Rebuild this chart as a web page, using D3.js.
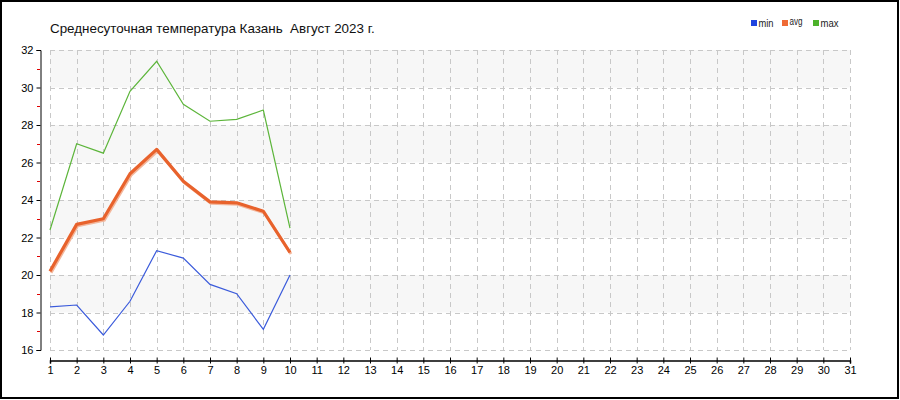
<!DOCTYPE html>
<html>
<head>
<meta charset="utf-8">
<script src="https://cdn.jsdelivr.net/npm/d3@7/dist/d3.min.js"></script>
<style>
  body { margin: 0; background: #fff; }
  svg { display: block; font-family: "Liberation Sans", Arial, sans-serif; }
</style>
</head>
<body>
<svg id="chart"></svg>
<script>
const days = d3.range(1, 32);
const seriesNames = ["min", "avg", "max"];
const minValues = [18.3, 18.4, 16.8, 18.6, 21.3, 20.9, 19.5, 19.0, 17.1, 20.0];
const avgValues = [20.2, 22.7, 23.0, 25.4, 26.7, 25.0, 23.9, 23.85, 23.4, 21.2];
const maxValues = [22.4, 27.0, 26.5, 29.8, 31.4, 29.1, 28.2, 28.3, 28.8, 22.5];
const yMajorTicks = [16, 18, 20, 22, 24, 26, 28, 30, 32];
const yMinorTicks = [17, 19, 21, 23, 25, 27, 29, 31];
const title = "Среднесуточная температура Казань  Август 2023 г.";

const totalWidth = 900;
const totalHeight = 400;

const colors = { min: "#3b5bdb", avg: "#e8622c", max: "#5cb53a" };
const legendColors = { min: "#1f44e0", avg: "#ef6a35", max: "#4cb22a" };

const svg = d3.select("#chart").attr("width", totalWidth).attr("height", totalHeight);

// frame
svg.append("rect")
  .attr("x", 1).attr("y", 1)
  .attr("width", totalWidth - 3).attr("height", totalHeight - 3)
  .attr("fill", "#fff").attr("stroke", "#000").attr("stroke-width", 2);

// scales
const xScale = d3.scaleLinear().domain([1, 31]).range([50, 850]);
const yScale = d3.scaleLinear().domain([16, 32]).range([350, 50]);

// alternating bands
svg.append("g").selectAll("rect")
  .data([18, 22, 26, 30])
  .enter().append("rect")
  .attr("x", xScale(1))
  .attr("width", xScale(31) - xScale(1))
  .attr("y", (d) => yScale(d + 2))
  .attr("height", (d) => yScale(d) - yScale(d + 2))
  .attr("fill", "#f7f7f7");

// grid
const grid = svg.append("g")
  .attr("stroke", "#c8c8c8")
  .attr("stroke-dasharray", "5,4")
  .attr("stroke-width", 1);
grid.selectAll(".vg").data(days).enter().append("line")
  .attr("x1", (d) => Math.round(xScale(d)) + 0.5)
  .attr("x2", (d) => Math.round(xScale(d)) + 0.5)
  .attr("y1", yScale(32)).attr("y2", yScale(16));
grid.selectAll(".hg").data(yMajorTicks).enter().append("line")
  .attr("y1", (d) => Math.round(yScale(d)) + 0.5)
  .attr("y2", (d) => Math.round(yScale(d)) + 0.5)
  .attr("x1", xScale(1)).attr("x2", xScale(31));

// y axis
const yAxisG = svg.append("g")
  .attr("transform", "translate(40.5,0)")
  .call(d3.axisLeft(yScale).tickValues(yMajorTicks).tickSize(4).tickPadding(3));
yAxisG.select(".domain").attr("stroke", "#000");
yAxisG.selectAll("text").attr("font-size", 11).attr("fill", "#000");
svg.append("g").selectAll("line")
  .data(yMinorTicks)
  .enter().append("line")
  .attr("x1", 37).attr("x2", 40)
  .attr("y1", (d) => Math.round(yScale(d)) + 0.5)
  .attr("y2", (d) => Math.round(yScale(d)) + 0.5)
  .attr("stroke", "#e00000");

// x axis
const xAxisG = svg.append("g")
  .attr("transform", "translate(0,360.5)")
  .call(d3.axisBottom(xScale).tickValues(days).tickFormat(d3.format("d")).tickSizeOuter(0).tickSize(3).tickPadding(3));
xAxisG.select(".domain").attr("stroke", "#000").attr("stroke-width", 1.5);
xAxisG.selectAll(".tick line").attr("y1", -3).attr("y2", 3).attr("stroke", "#000");
xAxisG.selectAll("text").attr("font-size", 11).attr("fill", "#000");

// lines
const lineFunction = d3.line()
  .x((d, i) => xScale(i + 1))
  .y((d) => yScale(d))
  .curve(d3.curveLinear);

const lines = svg.append("g").attr("fill", "none");
// avg shadow
lines.append("path")
  .attr("d", lineFunction(avgValues))
  .attr("stroke", "#f3b79c")
  .attr("stroke-width", 3)
  .attr("transform", "translate(1,1.5)");
lines.append("path")
  .attr("d", lineFunction(avgValues))
  .attr("stroke", colors.avg)
  .attr("stroke-width", 3.2)
  .attr("stroke-linejoin", "round");
lines.append("path")
  .attr("d", lineFunction(minValues))
  .attr("stroke", colors.min)
  .attr("stroke-width", 1.2);
lines.append("path")
  .attr("d", lineFunction(maxValues))
  .attr("stroke", colors.max)
  .attr("stroke-width", 1.2);

// title
svg.append("text")
  .attr("x", 50).attr("y", 33)
  .attr("font-size", 13.4)
  .attr("fill", "#111")
  .style("white-space", "pre")
  .text(title);

// legend
const legendX = [751, 782, 813];
const legendTextW = { min: 15, avg: 13, max: 18 };
const legend = svg.append("g").style("font-size", "10px");
seriesNames.forEach((name, i) => {
  legend.append("rect")
    .attr("x", legendX[i]).attr("y", 20)
    .attr("width", 6).attr("height", 6)
    .attr("fill", legendColors[name]);
  legend.append("text")
    .attr("x", legendX[i] + 7.5)
    .attr("y", name === "avg" ? 24.5 : 26.5)
    .attr("textLength", legendTextW[name])
    .attr("lengthAdjust", "spacingAndGlyphs")
    .attr("fill", "#222")
    .text(name);
});
</script>
</body>
</html>
